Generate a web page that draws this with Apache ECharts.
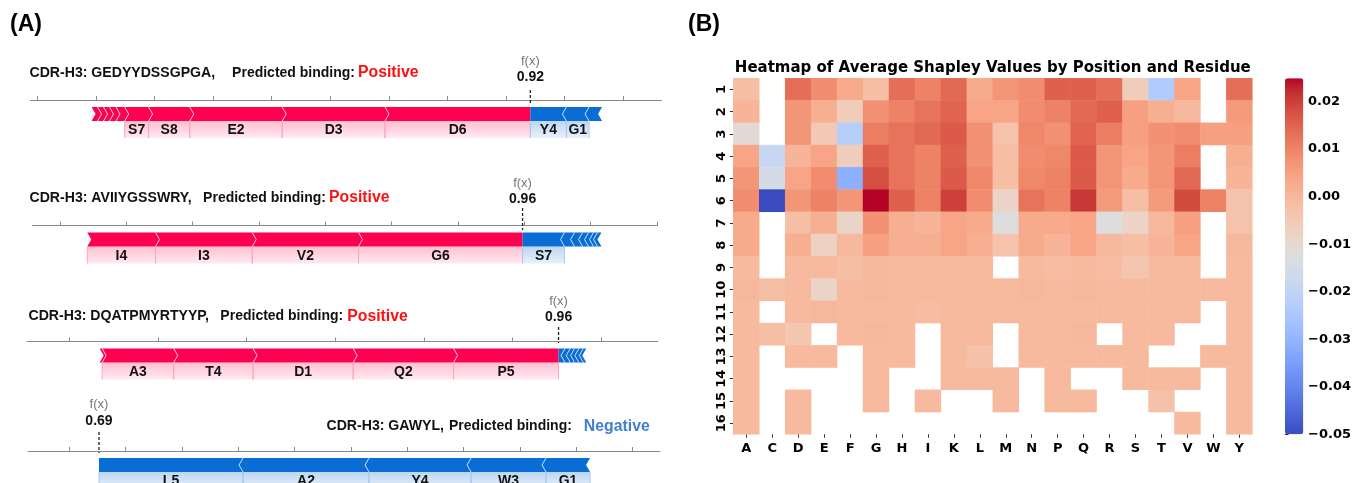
<!DOCTYPE html>
<html><head><meta charset="utf-8">
<script src="https://cdn.jsdelivr.net/npm/echarts@6/dist/echarts.min.js"></script>
<style>html,body{margin:0;padding:0;background:#fff}#c{width:1354px;height:483px}</style>
</head><body><div id="c"></div>
<script>
// ================= Panel A: SHAP force plots =================
const sequences = ['GEDYYDSSGPGA', 'AVIIYGSSWRY', 'DQATPMYRTYYP', 'GAWYL'];
const predictions = ['Positive', 'Positive', 'Positive', 'Negative'];
const fxLabels = ['0.92', '0.96', '0.96', '0.69'];
// model output position on each plot's (unlabelled) axis
const fxValues = [0.8415, 0.6976, 0.5521, 0.0526];
const axisMins = [-0.0118, -0.0415, -0.0479, -0.0735];
const axisMaxs = [1.0652, 0.9011, 0.6638, 1.049];
const ticks1 = [0, 0.1, 0.2, 0.3, 0.4, 0.5, 0.6, 0.7, 0.8, 0.9, 1.0];
const ticks2 = [0, 0.1, 0.2, 0.3, 0.4, 0.5, 0.6, 0.7, 0.8, 0.9];
const ticks3 = [0, 0.1, 0.2, 0.3, 0.4, 0.5, 0.6];
const ticks4 = [0, 0.1, 0.2, 0.3, 0.4, 0.5, 0.6, 0.7, 0.8, 0.9, 1.0];

// features pushing the prediction higher (red), ordered outward from f(x)
const p1RedNames = ['D6', 'D3', 'E2', 'S8', 'S7', '', '', '', '', ''];
const p1RedVals = [0.2481, 0.1754, 0.1578, 0.0703, 0.0408, 0.0148, 0.0111, 0.0102, 0.0102, 0.0102];
const p1BlueNames = ['Y4', 'G1', ''];
const p1BlueVals = [0.0616, 0.0386, 0.0222];

const p2RedNames = ['G6', 'V2', 'I3', 'I4'];
const p2RedVals = [0.2474, 0.1603, 0.1459, 0.1029];
const p2BlueNames = ['S7', '', '', '', '', '', ''];
const p2BlueVals = [0.0633, 0.0151, 0.0121, 0.0090, 0.0075, 0.0060, 0.0060];

const p3RedNames = ['P5', 'Q2', 'D1', 'T4', 'A3', ''];
const p3RedVals = [0.1185, 0.1133, 0.1130, 0.0896, 0.0808, 0.0028];
const p3BlueNames = ['', '', '', '', '', ''];
const p3BlueVals = [0.0073, 0.0059, 0.0049, 0.0049, 0.0049, 0.0034];

const p4RedNames = [];
const p4RedVals = [];
const p4BlueNames = ['L5', 'A2', 'Y4', 'W3', 'G1'];
const p4BlueVals = [0.2558, 0.2238, 0.1812, 0.1332, 0.0782];

// ================= Panel B: heatmap =================
const residues = ['A','C','D','E','F','G','H','I','K','L','M','N','P','Q','R','S','T','V','W','Y'];
const positions = ['1','2','3','4','5','6','7','8','9','10','11','12','13','14','15','16'];
const _ = null;
const shapMatrix = [
 [-0.0016,_,0.0135,0.0087,0.003,-0.0016,0.0135,0.0104,0.0142,0.003,0.007,0.0087,0.0156,0.0156,0.0135,-0.0058,-0.0237,0.004,_,0.0135],
 [0.0008,_,0.007,0.002,-0.0058,0.0078,0.0104,0.0128,0.015,0.004,0.004,0.0087,0.0104,0.0142,0.0156,0.005,0.002,-0.0004,_,0.006],
 [-0.0108,_,0.007,-0.0045,-0.0223,0.0112,0.0128,0.0142,0.0164,0.0078,-0.003,0.0096,0.0078,0.015,0.0112,0.005,0.0078,0.0087,0.005,0.005],
 [0.004,-0.0185,0.0008,0.004,-0.0058,0.0156,0.0128,0.0104,0.0156,0.0078,-0.0016,0.0087,0.0096,0.0164,0.007,0.004,0.007,0.0112,_,0.002],
 [0.007,-0.0148,0.004,0.0087,-0.0313,0.0179,0.0128,0.0104,0.0164,0.0096,-0.0016,0.0096,0.0104,0.0164,0.007,0.003,0.007,0.0142,_,0.0008],
 [0.0087,-0.05,0.007,0.0104,0.007,0.0249,0.0156,0.0104,0.0198,0.0087,-0.0083,0.0128,0.0104,0.021,0.006,-0.0016,0.006,0.0185,0.0104,-0.003],
 [0.003,_,-0.0016,0.002,-0.0085,0.0078,0.002,0.0008,0.004,0.003,-0.0125,0.003,0.003,0.004,-0.0125,-0.008,-0.0004,0.005,_,-0.003],
 [0.003,_,0.002,-0.0075,-0.0004,0.005,0.002,0.002,0.004,0.002,-0.003,0.003,0.0008,0.004,-0.0004,-0.0016,0.0008,0.004,_,-0.0004],
 [-0.0005,_,-0.0005,-0.0005,-0.0015,0.0,-0.0005,-0.0005,-0.0005,-0.0005,_,-0.0005,-0.001,-0.0005,-0.001,-0.0035,-0.0005,-0.0005,_,-0.0005],
 [0.0,-0.0015,-0.0005,-0.0085,-0.0005,0.0,-0.0005,-0.0005,-0.0005,-0.0005,-0.0005,0.0,-0.0005,0.0,-0.0005,-0.0005,-0.0005,-0.0005,-0.0005,-0.0005],
 [-0.0005,_,-0.0005,0.0,-0.0005,-0.0005,-0.0005,-0.001,-0.0005,-0.0005,-0.0005,-0.0005,-0.0005,-0.0005,-0.0005,-0.0005,-0.0005,-0.0005,_,-0.0005],
 [-0.0005,-0.0015,-0.004,_,-0.0005,0.0,-0.0005,_,-0.0005,-0.0005,_,-0.0005,-0.0005,0.0,_,-0.0005,-0.0005,_,_,-0.0005],
 [-0.0005,_,-0.0005,-0.0005,_,-0.0005,-0.0005,_,-0.0005,-0.0025,_,-0.0005,-0.0005,-0.0005,-0.0005,-0.0005,_,_,-0.0005,-0.0005],
 [-0.0005,_,_,_,_,-0.0005,_,_,-0.0005,-0.0005,-0.0005,_,-0.0005,_,_,-0.0005,-0.0005,-0.0005,_,-0.0005],
 [-0.0005,_,-0.0005,_,_,-0.0005,_,-0.0005,_,_,-0.0005,_,-0.0005,-0.0005,_,_,-0.0025,_,_,-0.0005],
 [-0.0005,_,-0.0005,_,_,_,_,_,_,_,_,_,_,_,_,_,_,-0.0005,_,-0.0005]
];
const colorbarTicks = [-0.05, -0.04, -0.03, -0.02, -0.01, 0.0, 0.01, 0.02];
const colorMin = -0.05, colorMax = 0.0249;
const coolwarm = ['#3b4cc0','#445acc','#4d68d7','#5775e1','#6282ea','#6c8ef1','#779af7','#82a5fb','#8db0fe','#98b9ff','#a3c2ff','#aec9fd','#b8d0f9','#c2d5f4','#ccd9ee','#d5dbe6','#dddddd','#e5d8d1','#ecd3c5','#f1ccb9','#f5c4ad','#f7bba0','#f7b194','#f7a687','#f49a7b','#f18d6f','#ec7f63','#e57058','#de604d','#d55042','#cb3e38','#c0282f','#b40426'];

// ================= build =================
const redNames = [p1RedNames, p2RedNames, p3RedNames, p4RedNames];
const redVals = [p1RedVals, p2RedVals, p3RedVals, p4RedVals];
const blueNames = [p1BlueNames, p2BlueNames, p3BlueNames, p4BlueNames];
const blueVals = [p1BlueVals, p2BlueVals, p3BlueVals, p4BlueVals];
const tickSets = [ticks1, ticks2, ticks3, ticks4];

const RED = '#ff0051', BLUE = '#0a6dd5';
const BAR_GAP = 7, BAR_H = 14, TIP = 4, LAB_H = 17, LAB_DY = 9.5;
const FONT_A = '"Liberation Sans", Arial, sans-serif';
const FONT_B = '"DejaVu Sans", sans-serif';

// layout of each force plot (pixels)
const forceGrids = [
  {left: 30.4, width: 631, top: 100},
  {left: 32.5, width: 625, top: 225.5},
  {left: 27, width: 630.5, top: 341.5},
  {left: 28, width: 632, top: 451}
];
const markLayout = [
  {fxDy: -39, valDy: -22.5, dashTop: -10, dashBot: 5},
  {fxDy: -42.5, valDy: -26.5, dashTop: -17.5, dashBot: 4.5},
  {fxDy: -40.5, valDy: -24.5, dashTop: -14.5, dashBot: 1.5},
  {fxDy: -47, valDy: -30, dashTop: -19, dashBot: 2}
];
const titleLayout = [
  {x: 29.5, y: 73, gapAB: 17, gapBP: 3},
  {x: 29.5, y: 198, gapAB: 11.5, gapBP: 3},
  {x: 28.5, y: 316.5, gapAB: 11.5, gapBP: 4},
  {x: 649.7, y: 426.5, gapAB: 5, gapBP: 12}
];

function segmentsFor(pi) {
  const segs = [];
  let cum = 0;
  redVals[pi].forEach((v, i) => {
    const e = fxValues[pi] - cum, s = e - v;
    segs.push({s, e, dir: 1, first: i === 0, name: redNames[pi][i]});
    cum += v;
  });
  cum = 0;
  blueVals[pi].forEach((v, i) => {
    const s = fxValues[pi] + cum, e = s + v;
    segs.push({s, e, dir: -1, first: i === 0, name: blueNames[pi][i]});
    cum += v;
  });
  return segs;
}

const grids = [], xAxes = [], yAxes = [], series = [];
forceGrids.forEach((g, pi) => {
  grids.push({left: g.left, width: g.width, top: g.top, height: 40});
  xAxes.push({
    type: 'value', gridIndex: pi, position: 'top', min: axisMins[pi], max: axisMaxs[pi],
    axisLine: {show: true, onZero: false, lineStyle: {color: '#8a8a8a', width: 1}},
    axisTick: {show: true, length: 4, inside: false, customValues: tickSets[pi], lineStyle: {color: '#8a8a8a'}},
    axisLabel: {show: false}, splitLine: {show: false}
  });
  yAxes.push({type: 'value', gridIndex: pi, min: 0, max: 1, show: false});
  const segs = segmentsFor(pi);
  series.push({
    type: 'custom', xAxisIndex: pi, yAxisIndex: pi, silent: true, clip: false,
    data: segs.map(d => [d.s, d.e, d.dir, d.first ? 1 : 0]),
    renderItem: function (params, api) {
      const seg = segs[params.dataIndex];
      const xs = api.coord([api.value(0), 0])[0];
      const xe = api.coord([api.value(1), 0])[0];
      const dir = api.value(2), first = api.value(3) === 1;
      const cs = params.coordSys;
      const top = cs.y + BAR_GAP, bot = top + BAR_H, mid = (top + bot) / 2;
      const children = [];
      let pts, sep = null;
      if (dir > 0) {
        pts = [[xs, top], [xe, top]];
        if (!first) pts.push([xe + TIP, mid]);
        pts.push([xe, bot], [xs, bot], [xs + TIP, mid]);
        if (!first) sep = [[xe, top], [xe + TIP, mid], [xe, bot]];
      } else {
        pts = [[xs, top], [xe, top], [xe - TIP, mid], [xe, bot], [xs, bot]];
        if (!first) { pts.push([xs - TIP, mid]); sep = [[xs, top], [xs - TIP, mid], [xs, bot]]; }
      }
      const col = dir > 0 ? RED : BLUE;
      children.push({type: 'polygon', shape: {points: pts}, style: {fill: col}, z2: 2});
      if (sep) children.push({type: 'polyline', shape: {points: sep},
        style: {stroke: dir > 0 ? 'rgba(255,205,220,0.95)' : 'rgba(200,225,250,0.95)', lineWidth: 1, fill: null}, z2: 6});
      if (seg.name) {
        const topC = dir > 0 ? '#ffbfd0' : '#bcd6f3';
        const botC = dir > 0 ? '#ffeaf0' : '#e8f1fb';
        const edgeC = dir > 0 ? '#ffa6bd' : '#a9c9ee';
        children.push({type: 'rect', shape: {x: Math.min(xs, xe), y: bot, width: Math.abs(xe - xs), height: LAB_H},
          style: {fill: new echarts.graphic.LinearGradient(0, 0, 0, 1, [{offset: 0, color: topC}, {offset: 1, color: botC}])}, z2: 1});
        children.push({type: 'line', shape: {x1: xs, y1: bot, x2: xs, y2: bot + LAB_H}, style: {stroke: edgeC, lineWidth: 1}, z2: 3});
        children.push({type: 'line', shape: {x1: xe, y1: bot, x2: xe, y2: bot + LAB_H}, style: {stroke: edgeC, lineWidth: 1}, z2: 3});
        children.push({type: 'text', style: {text: seg.name, x: (xs + xe) / 2, y: bot + LAB_DY, align: 'center', verticalAlign: 'middle',
          font: 'bold 14px ' + FONT_A, fill: '#111'}, z2: 8});
      }
      return {type: 'group', children: children};
    }
  });
  // f(x) marker
  const ml = markLayout[pi];
  series.push({
    type: 'custom', xAxisIndex: pi, yAxisIndex: pi, silent: true, clip: false,
    data: [[fxValues[pi]]],
    renderItem: function (params, api) {
      const x = api.coord([api.value(0), 0])[0];
      const ay = params.coordSys.y;
      return {type: 'group', children: [
        {type: 'line', shape: {x1: x, y1: ay + ml.dashTop, x2: x, y2: ay + ml.dashBot},
          style: {stroke: '#222', lineWidth: 1.3, lineDash: [3, 2]}, z2: 9},
        {type: 'text', style: {text: 'f(x)', x: x, y: ay + ml.fxDy, align: 'center', verticalAlign: 'middle',
          font: '13px ' + FONT_A, fill: '#777'}},
        {type: 'text', style: {text: fxLabels[pi], x: x, y: ay + ml.valDy, align: 'center', verticalAlign: 'middle',
          font: 'bold 14px ' + FONT_A, fill: '#111'}}
      ]};
    }
  });
});

// heatmap grid
grids.push({left: 733.3, width: 519, top: 78.3, height: 356});
xAxes.push({
  type: 'category', gridIndex: 4, data: residues, position: 'bottom',
  axisLine: {show: false}, splitLine: {show: false},
  axisTick: {show: true, alignWithLabel: true, interval: 0, length: 3.5, lineStyle: {color: '#333'}},
  axisLabel: {interval: 0, margin: 8, color: '#000', fontFamily: FONT_B, fontWeight: 'bold', fontSize: 13}
});
yAxes.push({
  type: 'category', gridIndex: 4, data: positions, inverse: true,
  axisLine: {show: false}, splitLine: {show: false},
  axisTick: {show: true, alignWithLabel: true, interval: 0, length: 3.5, lineStyle: {color: '#333'}},
  axisLabel: {interval: 0, margin: 5, rotate: 90, color: '#000', fontFamily: FONT_B, fontWeight: 'bold', fontSize: 13}
});
const heatData = [];
shapMatrix.forEach((row, r) => row.forEach((v, c) => { if (v !== null) heatData.push([c, r, v]); }));
const heatIndex = series.length;
series.push({type: 'heatmap', xAxisIndex: 4, yAxisIndex: 4, data: heatData, silent: true, progressive: 0,
  itemStyle: {borderWidth: 0}, emphasis: {disabled: true}});

// colorbar axis
grids.push({left: 1285, width: 18.3, top: 78.3, height: 356});
xAxes.push({type: 'value', gridIndex: 5, show: false, min: 0, max: 1});
yAxes.push({
  type: 'value', gridIndex: 5, position: 'right', min: colorMin, max: colorMax,
  axisLine: {show: false}, splitLine: {show: false},
  axisTick: {show: true, length: 3.5, customValues: colorbarTicks, lineStyle: {color: '#222'}},
  axisLabel: {customValues: colorbarTicks, margin: 6, color: '#000', fontFamily: FONT_B, fontWeight: 'bold', fontSize: 13,
    formatter: v => (v < -1e-9 ? '\u2212' : '') + Math.abs(v).toFixed(2)}
});

// texts
const graphics = [
  {type: 'text', x: 10, y: 25, style: {text: '(A)', font: 'bold 23px ' + FONT_A, fill: '#000', verticalAlign: 'middle'}},
  {type: 'text', x: 688, y: 25, style: {text: '(B)', font: 'bold 23px ' + FONT_A, fill: '#000', verticalAlign: 'middle'}},
  {type: 'text', x: 992.8, y: 68, style: {text: 'Heatmap of Average Shapley Values by Position and Residue',
    font: 'bold 15px ' + FONT_B, fill: '#000', align: 'center', verticalAlign: 'middle'}}
];
sequences.forEach((seq, pi) => {
  const neg = predictions[pi] === 'Negative';
  const tl = titleLayout[pi];
  graphics.push({
    type: 'text', x: tl.x, y: tl.y,
    style: {
      text: '{a|CDR-H3: ' + seq + ',}{b|Predicted binding:}{p|' + predictions[pi] + '}',
      align: neg ? 'right' : 'left', verticalAlign: 'middle',
      rich: {
        a: {fontFamily: FONT_A, fontWeight: 'bold', fontSize: 14.1, fill: '#111'},
        b: {fontFamily: FONT_A, fontWeight: 'bold', fontSize: 14, fill: '#111', padding: [0, 0, 0, tl.gapAB]},
        p: {fontFamily: FONT_A, fontWeight: 'bold', fontSize: 15.8, fill: neg ? '#3f7fd6' : '#ff1010', padding: [0, 0, 0, tl.gapBP]}
      }
    }
  });
});

const chart = echarts.init(document.getElementById('c'), null, {renderer: 'canvas'});
chart.setOption({
  animation: false,
  backgroundColor: '#fff',
  grid: grids, xAxis: xAxes, yAxis: yAxes, series: series,
  visualMap: [{
    type: 'continuous', seriesIndex: heatIndex, min: colorMin, max: colorMax,
    inRange: {color: coolwarm}, calculable: false, hoverLink: false,
    left: 1285, top: 78.3, itemWidth: 18.3, itemHeight: 356, padding: 0, text: null, orient: 'vertical'
  }],
  graphic: graphics
});
</script></body></html>
